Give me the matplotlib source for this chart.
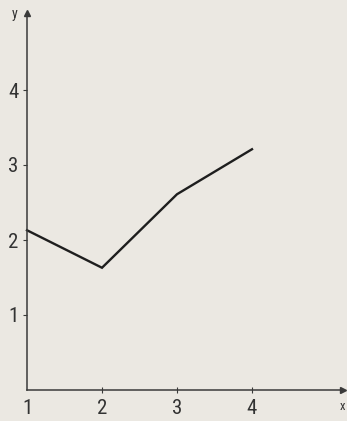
import matplotlib
matplotlib.use("Agg")
import matplotlib.pyplot as plt
from matplotlib import font_manager

x_values = [1, 2, 3, 4]
y_values = [2.13, 1.63, 2.61, 3.21]
x_ticks = [2, 3, 4]
y_ticks = [1, 2, 3, 4]

names = {f.name for f in font_manager.fontManager.ttflist}
cands = ['Liberation Sans Narrow', 'DejaVu Sans Condensed', 'Roboto Condensed', 'Open Sans Condensed']
fam = [c for c in cands if c in names] + ['DejaVu Sans']
plt.rcParams['font.family'] = fam
plt.rcParams['font.stretch'] = 'condensed'

bg = '#ebe8e2'
ink = '#333333'
W, H = 347, 421
fig = plt.figure(figsize=(W / 100, H / 100), dpi=100, facecolor=bg)
ax = fig.add_axes([27 / W, 31 / H, 320 / W, 375 / H], facecolor=bg)

ax.plot(x_values, y_values, color='#1e1e1e', lw=1.7, solid_joinstyle='miter', clip_on=False)

ax.set_xlim(1, 5.267)
ax.set_ylim(0, 5)
for s in ['top', 'right']:
    ax.spines[s].set_visible(False)
ax.spines['bottom'].set_bounds(1, 5.22)
for s in ['left', 'bottom']:
    ax.spines[s].set_color('#3a3a3a')
    ax.spines[s].set_linewidth(1.1)

ax.plot([5.22], [0], marker='>', color='#3a3a3a', ms=5, clip_on=False)
ax.plot([1], [5.03], marker='^', color='#3a3a3a', ms=5, clip_on=False)

ax.set_xticks(x_ticks)
ax.set_yticks(y_ticks)
ax.tick_params(axis='x', direction='inout', length=5, width=0.8, colors='#3a3a3a',
               labelsize=15, labelcolor=ink, pad=4)
ax.tick_params(axis='y', direction='out', length=3, width=0.8, colors='#3a3a3a',
               labelsize=15, labelcolor=ink, pad=3)

ax.annotate('1', xy=(1, 0), xycoords='data', xytext=(0, -6.5), textcoords='offset points',
            ha='center', va='top', fontsize=15, color=ink, annotation_clip=False)
ax.text(0.84, 5.02, 'y', ha='center', va='center', fontsize=10, color=ink, clip_on=False)
ax.text(5.21, -0.22, 'x', ha='center', va='center', fontsize=9, color=ink, clip_on=False)

fig.savefig('out.png', dpi=100, facecolor=bg)
